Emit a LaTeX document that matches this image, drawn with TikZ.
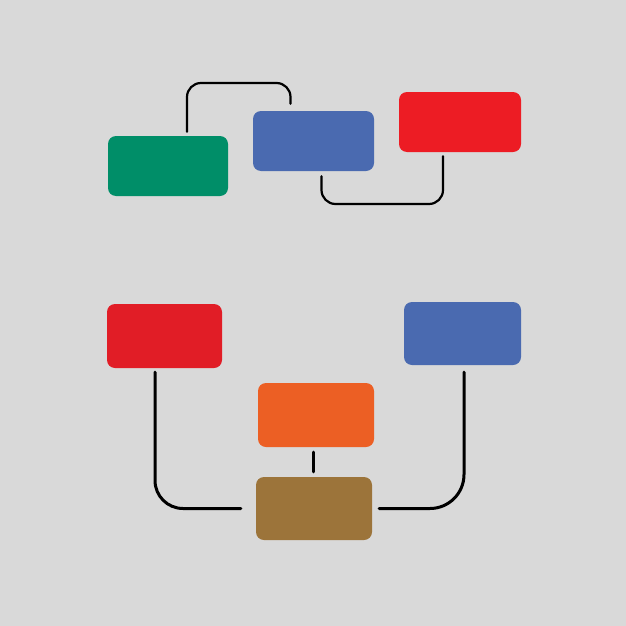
\documentclass[tikz,border=0pt]{standalone}
\usetikzlibrary{calc}
\definecolor{bg}{HTML}{D9D9D9}
\definecolor{cgreen}{HTML}{008E68}
\definecolor{cblue}{HTML}{4A6AB0}
\definecolor{cred}{HTML}{ED1C24}
\definecolor{cred2}{HTML}{E11D26}
\definecolor{corange}{HTML}{EC5F24}
\definecolor{cbrown}{HTML}{9C743A}
\tikzset{
  blob/.style={rectangle, rounded corners=8pt, inner sep=0pt, draw=none},
  wire/.style={draw=black, line width=2.2pt, line cap=round},
  wireb/.style={draw=black, line width=3pt, line cap=round}
}
\begin{document}
\begin{tikzpicture}[x=1pt,y=-1pt]
\fill[bg] (0,0) rectangle (626,626);
\useasboundingbox (0,0) rectangle (626,626);
% top group
\node[blob, fill=cgreen, minimum width=120pt, minimum height=60pt] (g) at (168,166) {};
\node[blob, fill=cblue, minimum width=121pt, minimum height=60pt] (b) at (313.5,141) {};
\node[blob, fill=cred, minimum width=122pt, minimum height=60pt] (r) at (460,122) {};
\coordinate (c1) at (240,83);
\coordinate (c2) at (380,204);
\draw[wire, rounded corners=14pt, shorten <=4pt, shorten >=7pt]
  ([xshift=19pt]g.north) |- (c1) -| ([xshift=-23pt]b.north);
\draw[wire, rounded corners=14pt, shorten <=5pt, shorten >=4pt]
  ([xshift=8pt]b.south) |- (c2) -| ([xshift=-17pt]r.south);
% bottom group
\node[blob, fill=cred2, minimum width=115pt, minimum height=64pt] (r2) at (164.5,336) {};
\node[blob, fill=cblue, minimum width=117pt, minimum height=63pt] (b2) at (462.5,333.5) {};
\node[blob, fill=corange, minimum width=116pt, minimum height=64pt] (o) at (316,415) {};
\node[blob, fill=cbrown, minimum width=116pt, minimum height=63pt] (br) at (314,508.5) {};
\draw[wireb, rounded corners=28pt, shorten <=4pt, shorten >=15pt]
  ([xshift=-9.5pt]r2.south) |- (br.west);
\draw[wireb, rounded corners=34pt, shorten <=7pt, shorten >=7pt]
  ([xshift=1.5pt]b2.south) |- (br.east);
\draw[wireb, shorten <=5pt, shorten >=5pt]
  ([xshift=-3pt]o.south) -- ([xshift=-1pt]br.north);
\end{tikzpicture}
\end{document}
